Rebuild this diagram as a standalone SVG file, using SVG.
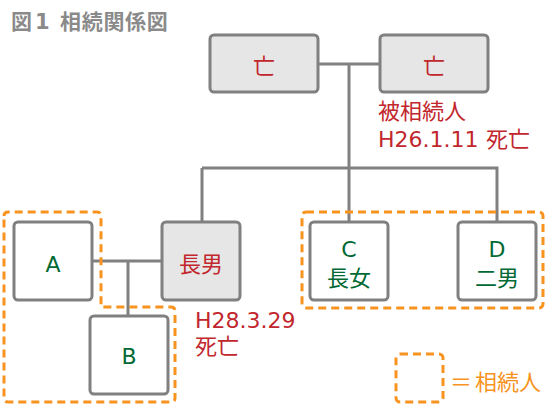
<svg xmlns="http://www.w3.org/2000/svg" width="550" height="405" viewBox="0 0 550 405">
<style>
text{font-family:"DejaVu Sans","Noto Sans CJK JP",sans-serif;font-size:22px}
.box{fill:#fff;stroke:#808080;stroke-width:3}
.dead{fill:#e6e6e6;stroke:#808080;stroke-width:3}
.line{fill:none;stroke:#808080;stroke-width:3}
.dash{fill:none;stroke:#f7931e;stroke-width:3;stroke-dasharray:8,5}
.red{fill:#c1272d}
.grn{fill:#006934}
.org{fill:#f7931e}
.c{text-anchor:middle}
.title{fill:#8a8a8a;font-weight:bold;font-size:21px}
</style>
<rect width="550" height="405" fill="#fff"/>
<text class="title" y="29"><tspan x="11">図</tspan><tspan x="35">1</tspan><tspan x="60" style="letter-spacing:0.7px">相続関係図</tspan></text>
<g id="connectors">
<path class="line" d="M318,64H380M349,64V222M202,168H497V222M202,168V222M92,261H162M128,261V316"/>
</g>
<g id="parent1"><rect class="dead" x="210" y="35" width="108" height="57" rx="4"/><text class="red c" x="264" y="74">亡</text></g>
<g id="parent2"><rect class="dead" x="380" y="35" width="108" height="57" rx="4"/><text class="red c" x="434" y="74">亡</text>
<text class="red" x="378" y="119">被相続人</text><text class="red" y="147"><tspan x="378">H26.1.11</tspan><tspan x="486">死亡</tspan></text></g>
<g id="eldest-son"><rect class="dead" x="162" y="222" width="78" height="78" rx="4"/><text class="red c" x="201" y="272">長男</text>
<text class="red" x="195" y="328">H28.3.29</text><text class="red" x="195" y="354">死亡</text></g>
<g id="A"><rect class="box" x="14" y="222" width="78" height="78" rx="4"/><text class="grn c" x="53" y="272">A</text></g>
<g id="B"><rect class="box" x="90" y="316" width="78" height="78" rx="4"/><text class="grn c" x="129" y="364">B</text></g>
<g id="C"><rect class="box" x="310" y="222" width="78" height="78" rx="4"/><text class="grn c" x="349" y="257">C</text><text class="grn c" x="349" y="286">長女</text></g>
<g id="D"><rect class="box" x="458" y="222" width="78" height="78" rx="4"/><text class="grn c" x="497" y="257">D</text><text class="grn c" x="497" y="286">二男</text></g>
<g id="heirs-left"><path class="dash" d="M4,216Q4,212 8,212H97Q101,212 101,216V307H171Q175,307 175,311V398Q175,402 171,402H8Q4,402 4,398Z"/></g>
<g id="heirs-right"><rect class="dash" x="302" y="212" width="241" height="96" rx="4"/></g>
<g id="legend"><rect class="dash" x="396" y="354" width="47" height="48" rx="4"/><text class="org" y="390"><tspan x="450">＝</tspan><tspan x="475">相続人</tspan></text></g>
</svg>
